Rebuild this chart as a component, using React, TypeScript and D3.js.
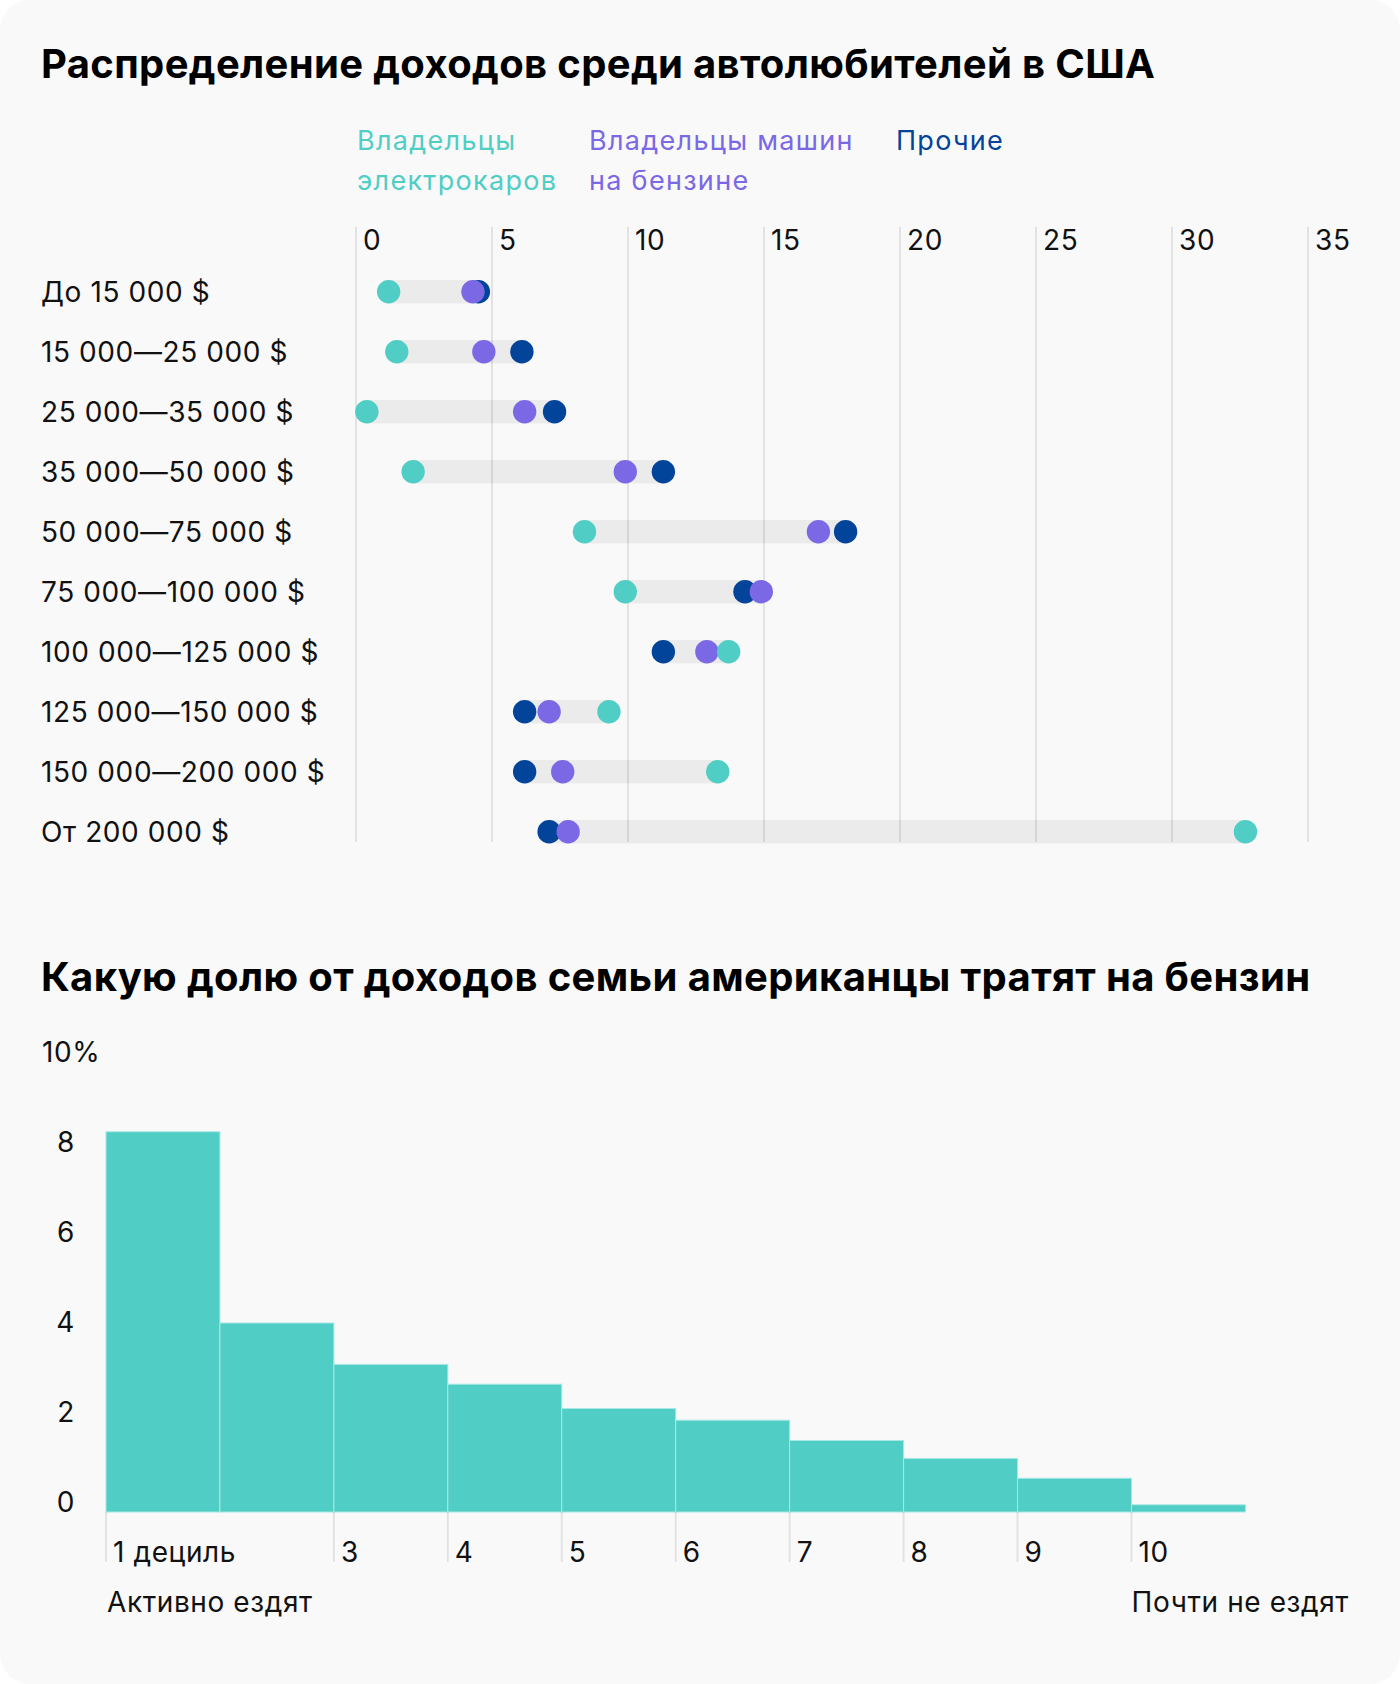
import React from "react";
import * as d3 from "d3";

const categories = [
  "До 15 000 $",
  "15 000—25 000 $",
  "25 000—35 000 $",
  "35 000—50 000 $",
  "50 000—75 000 $",
  "75 000—100 000 $",
  "100 000—125 000 $",
  "125 000—150 000 $",
  "150 000—200 000 $",
  "От 200 000 $",
];
const evOwners = [1.2, 1.5, 0.4, 2.1, 8.4, 9.9, 13.7, 9.3, 13.3, 32.7];
const gasOwners = [4.3, 4.7, 6.2, 9.9, 17.0, 14.9, 12.9, 7.1, 7.6, 7.8];
const others = [4.5, 6.1, 7.3, 11.3, 18.0, 14.3, 11.3, 6.2, 6.2, 7.1];
const xTicks = [0, 5, 10, 15, 20, 25, 30, 35];

const deciles = [1, 2, 3, 4, 5, 6, 7, 8, 9, 10];
const gasShare = [8.45, 4.2, 3.28, 2.84, 2.3, 2.04, 1.59, 1.19, 0.75, 0.16];
const yTicks = [0, 2, 4, 6, 8];
const xLabelDeciles = [1, 3, 4, 5, 6, 7, 8, 9, 10];

const TEAL = "#50CDC4";
const PURPLE = "#7B68E4";
const BLUE = "#02449A";
const FONT = "Inter, 'Noto Sans', sans-serif";
const LS = 0.6;

export default function App() {
  const W = 1400;
  const H = 1684;

  const x = d3.scaleLinear().domain([0, 35]).range([356, 1308]);
  const y = d3.scalePoint<string>().domain(categories).range([291.7, 831.7]);
  const r = 11.7;

  const hx = d3
    .scaleBand<number>()
    .domain(deciles)
    .range([106, 1245.4])
    .padding(0);
  const hy = d3.scaleLinear().domain([0, 10]).range([1512, 1062]);

  const series = [
    { vals: others, color: BLUE },
    { vals: gasOwners, color: PURPLE },
    { vals: evOwners, color: TEAL },
  ];

  return (
    <div style={{ position: "absolute", left: 0, top: 0 }}>
      <svg width={W} height={H} style={{ display: "block", fontFamily: FONT }}>
        <rect x={0} y={0} width={W} height={H} fill="#ffffff" />
        <rect x={0} y={0} width={W} height={H} rx={30} ry={30} fill="#F9F9F9" />

        <text x={41} y={78} fontSize={40} fontWeight={700} fill="#000" letterSpacing={0.35}>
          Распределение доходов среди автолюбителей в США
        </text>

        {/* legend */}
        <g fontSize={27} letterSpacing={1.3}>
          <text x={357} y={150} fill={TEAL}>Владельцы</text>
          <text x={357} y={190} fill={TEAL}>электрокаров</text>
          <text x={589} y={150} fill={PURPLE}>Владельцы машин</text>
          <text x={589} y={190} fill={PURPLE}>на бензине</text>
          <text x={896} y={150} fill={BLUE}>Прочие</text>
        </g>

        {/* tick labels */}
        <g fontSize={28} fill="#111" letterSpacing={LS}>
          {xTicks.map((t) => (
            <text key={t} x={x(t) + 7} y={250}>
              {t}
            </text>
          ))}
        </g>

        {/* row labels */}
        <g fontSize={28} fill="#111" letterSpacing={LS}>
          {categories.map((c) => (
            <text key={c} x={41} y={(y(c) as number) + 10}>
              {c}
            </text>
          ))}
        </g>

        {/* range bars */}
        {categories.map((c, i) => {
          const vs = [evOwners[i], gasOwners[i], others[i]];
          const lo = d3.min(vs) as number;
          const hi = d3.max(vs) as number;
          return (
            <rect
              key={c}
              x={x(lo)}
              y={(y(c) as number) - r}
              width={x(hi) - x(lo)}
              height={r * 2}
              fill="#EBEBEB"
            />
          );
        })}

        {/* gridlines */}
        {xTicks.map((t) => (
          <line
            key={t}
            x1={x(t)}
            x2={x(t)}
            y1={227}
            y2={842}
            stroke="#000"
            strokeOpacity={0.09}
            strokeWidth={2}
          />
        ))}

        {/* dots */}
        {series.map((s, si) =>
          categories.map((c, i) => (
            <circle
              key={si + "-" + c}
              cx={x(s.vals[i])}
              cy={y(c) as number}
              r={r}
              fill={s.color}
            />
          ))
        )}

        {/* second chart */}
        <text x={41} y={991} fontSize={40} fontWeight={700} fill="#000" letterSpacing={0.35}>
          Какую долю от доходов семьи американцы тратят на бензин
        </text>

        <text x={42} y={hy(10)} fontSize={28} fill="#111" letterSpacing={LS}>
          10%
        </text>
        <g fontSize={28} fill="#111" letterSpacing={LS}>
          {yTicks.map((t) => (
            <text key={t} x={75} y={hy(t)} textAnchor="end">
              {t}
            </text>
          ))}
        </g>

        {deciles.map((d, i) => (
          <rect
            key={d}
            x={hx(d) as number}
            y={hy(gasShare[i])}
            width={hx.bandwidth()}
            height={hy(0) - hy(gasShare[i])}
            fill={TEAL}
            stroke="#A6E8E3"
            strokeWidth={1}
          />
        ))}

        {xLabelDeciles.map((d) => (
          <g key={d}>
            <line
              x1={hx(d) as number}
              x2={hx(d) as number}
              y1={hy(0)}
              y2={1562}
              stroke="#000"
              strokeOpacity={0.09}
              strokeWidth={2}
            />
            <text
              x={(hx(d) as number) + 7}
              y={1562}
              fontSize={28}
              fill="#111"
              letterSpacing={LS}
            >
              {d === 1 ? "1 дециль" : d}
            </text>
          </g>
        ))}

        <text x={107} y={1612} fontSize={28} fill="#111" letterSpacing={LS}>
          Активно ездят
        </text>
        <text x={1349} y={1612} fontSize={28} fill="#111" textAnchor="end" letterSpacing={LS}>
          Почти не ездят
        </text>
      </svg>
    </div>
  );
}
